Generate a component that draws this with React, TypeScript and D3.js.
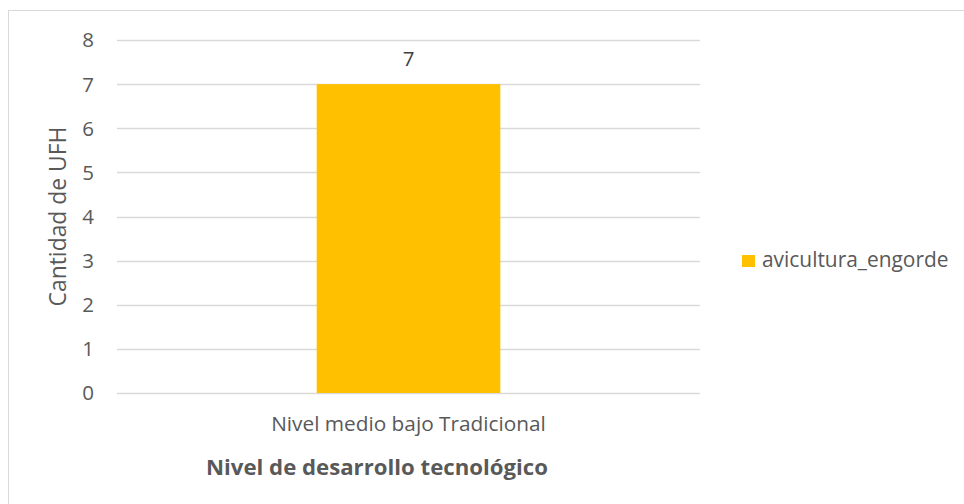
import React from "react";
import * as d3 from "d3";

const categories = ["Nivel medio bajo Tradicional"];
const seriesName = "avicultura_engorde";
const values = [7];
const yTicks = [0, 1, 2, 3, 4, 5, 6, 7, 8];
const yTitle = "Cantidad de UFH";
const xTitle = "Nivel de desarrollo tecnológico";

const W = 964;
const H = 504;
const plot = { left: 117, right: 700, top: 40, bottom: 393 };
const FONT = "'Open Sans', 'Noto Sans', sans-serif";

export default function App() {
  const x = d3
    .scaleBand<string>()
    .domain(categories)
    .range([plot.left, plot.right])
    .paddingInner(0.685)
    .paddingOuter(0.3425);
  const y = d3.scaleLinear().domain([0, 8]).range([plot.bottom, plot.top]);

  return (
    <svg
      width={W}
      height={H}
      style={{ position: "absolute", left: 0, top: 0, background: "#fff" }}
    >
      <rect x={8.5} y={10.5} width={W + 20} height={H + 20} fill="#fff" stroke="#D9D9D9" strokeWidth={1} />
      {yTicks.map((t) => (
        <g key={t}>
          <line
            x1={plot.left}
            x2={plot.right}
            y1={Math.round(y(t)) + 0.5}
            y2={Math.round(y(t)) + 0.5}
            stroke="#D9D9D9"
            strokeWidth={1.3}
          />
          <text
            x={94}
            y={y(t)}
            dy="0.36em"
            textAnchor="end"
            fontFamily={FONT}
            fontSize={20.5}
            fill="#595959"
          >
            {t}
          </text>
        </g>
      ))}
      {categories.map((c, i) => (
        <g key={c}>
          <rect
            x={x(c)!}
            y={y(values[i])}
            width={x.bandwidth()}
            height={y(0) - y(values[i])}
            fill="#FFC000"
          />
          <text
            x={x(c)! + x.bandwidth() / 2}
            y={y(values[i]) - 18}
            textAnchor="middle"
            fontFamily={FONT}
            fontSize={20.5}
            fill="#404040"
          >
            {values[i]}
          </text>
          <text
            x={x(c)! + x.bandwidth() / 2}
            y={431}
            textAnchor="middle"
            fontFamily={FONT}
            fontSize={20.8}
            fill="#595959"
          >
            {c}
          </text>
        </g>
      ))}
      <text
        x={377}
        y={475}
        textAnchor="middle"
        fontFamily={FONT}
        fontSize={22.2}
        fontWeight="bold"
        fill="#595959"
      >
        {xTitle}
      </text>
      <text
        transform={`translate(66,${(plot.top + plot.bottom) / 2}) rotate(-90)`}
        textAnchor="middle"
        fontFamily={FONT}
        fontSize={22.9}
        fill="#595959"
      >
        {yTitle}
      </text>
      <rect x={742} y={255} width={13} height={12} fill="#FFC000" />
      <text x={762} y={267} fontFamily={FONT} fontSize={20.9} fill="#595959">
        {seriesName}
      </text>
    </svg>
  );
}
